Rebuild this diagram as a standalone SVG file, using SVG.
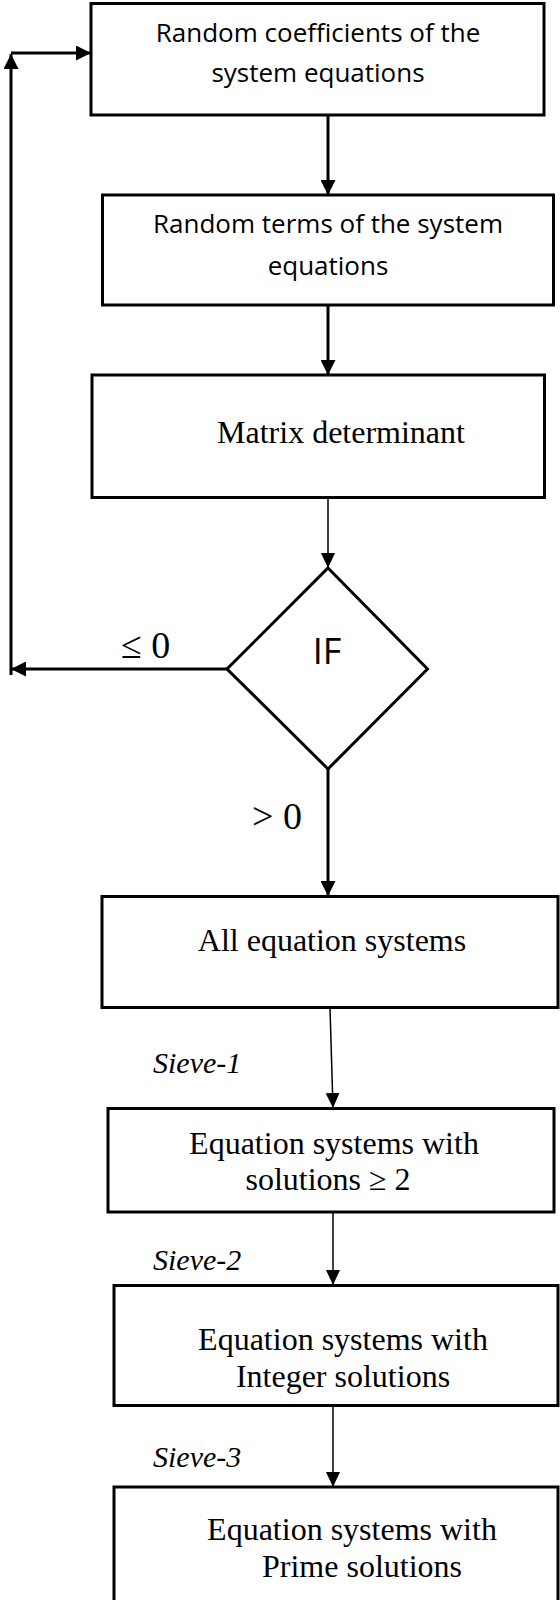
<svg xmlns="http://www.w3.org/2000/svg" width="560" height="1600" viewBox="0 0 560 1600">
<style>
.box{fill:#fff;stroke:#000;stroke-width:3}
.sans{font-family:"Open Sans","Liberation Sans",sans-serif;fill:#000}
.serif{font-family:"Liberation Serif","Times New Roman",serif;fill:#000}
.ital{font-family:"Liberation Serif","Times New Roman",serif;font-style:italic;fill:#000;font-size:30px}
.thick{stroke:#000;stroke-width:3;fill:none}
.thin{stroke:#000;stroke-width:1.5;fill:none}
</style>
<defs>
<marker id="ah" markerUnits="userSpaceOnUse" markerWidth="15" markerHeight="15" refX="15" refY="7.5" orient="auto">
<path d="M0,0 L15,7.5 L0,15 z" fill="#000"/>
</marker>
<marker id="ahs" markerUnits="userSpaceOnUse" markerWidth="15" markerHeight="14" refX="15" refY="7" orient="auto">
<path d="M0,0 L15,7 L0,14 z" fill="#000"/>
</marker>
</defs>
<g id="connectors">
<line class="thick" x1="328" y1="115" x2="328" y2="195" marker-end="url(#ah)"/>
<line class="thick" x1="328" y1="305" x2="328" y2="375" marker-end="url(#ah)"/>
<line class="thin" x1="328" y1="498" x2="328" y2="568" marker-end="url(#ahs)"/>
<line class="thick" x1="227" y1="669" x2="11" y2="669" marker-end="url(#ah)"/>
<line class="thick" x1="11" y1="675" x2="11" y2="54" marker-end="url(#ah)"/>
<line class="thick" x1="11" y1="53" x2="91" y2="53" marker-end="url(#ah)"/>
<line class="thick" x1="328" y1="769" x2="328" y2="896" marker-end="url(#ah)"/>
<line class="thin" x1="330" y1="1008" x2="333" y2="1108" marker-end="url(#ahs)"/>
<line class="thin" x1="333" y1="1212" x2="333" y2="1285" marker-end="url(#ahs)"/>
<line class="thin" x1="333" y1="1406" x2="333" y2="1487" marker-end="url(#ahs)"/>
<text class="serif" x="121" y="658" font-size="38">≤ 0</text>
<text class="serif" x="252" y="829" font-size="38">&gt; 0</text>
<text class="ital" x="153" y="1073">Sieve-1</text>
<text class="ital" x="153" y="1270">Sieve-2</text>
<text class="ital" x="153" y="1467">Sieve-3</text>
</g>
<g id="n1">
<rect class="box" x="91" y="3.5" width="453" height="111.5"/>
<text class="sans" font-size="26" text-anchor="middle" x="318" y="42">Random coefficients of the</text>
<text class="sans" font-size="26" text-anchor="middle" x="318" y="82">system equations</text>
</g>
<g id="n2">
<rect class="box" x="102.5" y="195" width="451" height="110"/>
<text class="sans" font-size="26" text-anchor="middle" x="328" y="233">Random terms of the system</text>
<text class="sans" font-size="26" text-anchor="middle" x="328" y="275">equations</text>
</g>
<g id="n3">
<rect class="box" x="92" y="375" width="452.5" height="122.5"/>
<text class="serif" font-size="32" text-anchor="middle" x="341" y="443">Matrix determinant</text>
</g>
<g id="n4">
<polygon class="box" points="328,568 427.5,669 328,769 227,669"/>
<text class="sans" font-size="36" text-anchor="middle" x="327" y="664">IF</text>
</g>
<g id="n5">
<rect class="box" x="102" y="896.5" width="456" height="111"/>
<text class="serif" font-size="32" text-anchor="middle" x="332" y="951">All equation systems</text>
</g>
<g id="n6">
<rect class="box" x="108" y="1108.5" width="446" height="103.5"/>
<text class="serif" font-size="32" text-anchor="middle" x="334" y="1154">Equation systems with</text>
<text class="serif" font-size="32" text-anchor="middle" x="328" y="1190">solutions ≥ 2</text>
</g>
<g id="n7">
<rect class="box" x="114" y="1285.5" width="444" height="120"/>
<text class="serif" font-size="32" text-anchor="middle" x="343" y="1350">Equation systems with</text>
<text class="serif" font-size="32" text-anchor="middle" x="343" y="1387">Integer solutions</text>
</g>
<g id="n8">
<rect class="box" x="114" y="1487" width="444" height="130"/>
<text class="serif" font-size="32" text-anchor="middle" x="352" y="1540">Equation systems with</text>
<text class="serif" font-size="32" text-anchor="middle" x="362" y="1577">Prime solutions</text>
</g>
</svg>
